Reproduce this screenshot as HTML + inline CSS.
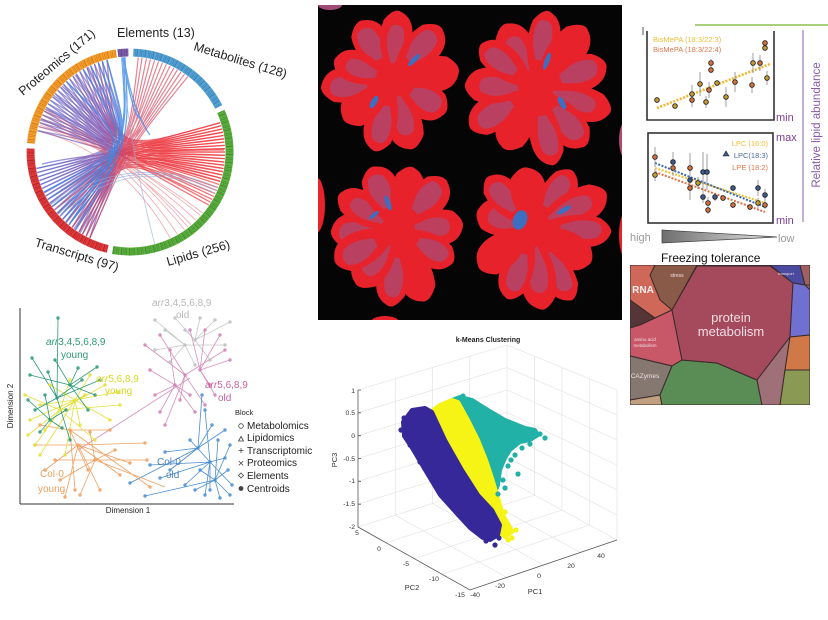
<!DOCTYPE html>
<html><head><meta charset="utf-8">
<style>
html,body{margin:0;padding:0;background:#fff;}
svg{display:block;}
text{font-family:"Liberation Sans",sans-serif;}
</style></head>
<body>
<svg width="828" height="620" viewBox="0 0 828 620" xmlns="http://www.w3.org/2000/svg">
<defs>
  <clipPath id="blk"><rect x="318" y="5" width="304" height="315"/></clipPath>
  <clipPath id="tm"><rect x="630" y="265" width="180" height="140"/></clipPath>
  <linearGradient id="gRB" gradientUnits="userSpaceOnUse" x1="40" y1="0" x2="215" y2="0">
    <stop offset="0" stop-color="#5a6fd6"/>
    <stop offset="0.35" stop-color="#8a50a8"/>
    <stop offset="0.55" stop-color="#e8343c"/>
    <stop offset="1" stop-color="#f03a40"/>
  </linearGradient>
  <linearGradient id="tri" x1="0" y1="0" x2="1" y2="0">
    <stop offset="0" stop-color="#6e6e6e"/>
    <stop offset="1" stop-color="#e6e6e6"/>
  </linearGradient>
  <path id="lf" d="M0,-5 L16,-11 Q34,-21 52,-15 Q64,-4 60,4 Q56,16 44,18 Q30,20 16,11 L0,5Z"/>
  <g id="lfA"><use href="#lf" fill="#e8222a"/><path d="M22,-5 L32,-10 Q44,-14 52,-8 Q56,0 50,7 Q42,11 32,8 L22,4Z" fill="#a0527e" fill-opacity="0.65"/></g>
  <g id="lfB"><use href="#lf" fill="#e8222a"/><path d="M14,-3 L26,-8 Q38,-12 47,-6 Q51,2 45,8 Q36,11 26,7 L14,3Z" fill="#9a5886" fill-opacity="0.55"/></g>
  <g id="lfR"><use href="#lf" fill="#e8222a"/></g>
</defs>

<!-- ============ CHORD ============ -->
<g fill="none">
<path stroke="#6a5fc0" stroke-opacity="0.65" stroke-width="1.3" d="M37.5,130.6C130,148 130,148 89.8,238.1M38.5,126.6C130,148 130,148 82.5,234.3M39.7,122.6C130,148 130,148 86.1,236.3M41,118.7C130,148 130,148 75.5,229.8M42.5,114.9C130,148 130,148 79,232.1M44.2,111.1C130,148 130,148 68.9,224.8M46.1,107.4C130,148 130,148 72.2,227.4M48.1,103.8C130,148 130,148 62.8,219.2M50.3,100.2C130,148 130,148 65.8,222M52.6,96.8C130,148 130,148 57.2,213.1M55.1,93.5C130,148 130,148 60,216.2M57.7,90.3C130,148 130,148 52.2,206.5M60.5,87.2C130,148 130,148 54.6,209.9M63.4,84.2C130,148 130,148 47.7,199.5M66.4,81.4C130,148 130,148 49.9,203M69.5,78.7C130,148 130,148 43.9,192.2M72.8,76.1C130,148 130,148 45.7,195.9M76.2,73.7C130,148 130,148 40.7,184.5M79.7,71.4C130,148 130,148 42.2,188.4M83.3,69.3C130,148 130,148 38.2,176.6M86.9,67.4C130,148 130,148 39.4,180.6M90.6,65.6C130,148 130,148 36.4,168.5M94.4,63.9C130,148 130,148 37.2,172.6M98.3,62.5C130,148 130,148 62.8,219.2M102.3,61.2C130,148 130,148 72.2,227.4M107,59.8C130,148 130,148 82.5,234.3M40,120C128,146 128,146 44,193M45,109C128,146 128,146 50,204M53,95C128,146 128,146 58,214M62,86C128,146 128,146 66,223M75,75C128,146 128,146 74,229M88,67C128,146 128,146 80,233"/>
<path stroke="url(#gRB)" stroke-opacity="0.7" stroke-width="1.3" d="M220.3,122.6C115,153 115,153 107,59.8M221.3,125.8C115,153 115,153 94.4,63.9M222.2,129C115,153 115,153 83.3,69.3M223,132.2C115,153 115,153 102.3,61.2M223.6,135.5C115,153 115,153 72.8,76.1M224.1,138.8C115,153 115,153 90.6,65.6M224.5,142.1C115,153 115,153 63.4,84.2M224.8,145.4C115,153 115,153 79.7,71.4M224.9,148.7C115,153 115,153 55.1,93.5M225,152C115,153 115,153 66.4,81.4M224.9,155.3C115,153 115,153 48.1,103.8M224.8,158.6C115,153 115,153 60.5,87.2M224.5,162C115,153 115,153 42.5,114.9M224.1,165.2C115,153 115,153 52.6,96.8M223.6,168.5C115,153 115,153 39.7,122.6M223,171.7C115,153 115,153 46.1,107.4M222.2,175C115,153 115,153 37.5,130.6M221.3,178.2C115,153 115,153 69.5,78.7M220.3,181.4C115,153 115,153 44.2,111.1M218.1,187.6C115,153 115,153 57.7,90.3M215.4,193.6C115,153 115,153 76.2,73.7M212.3,199.5C115,153 115,153 41,118.7M208.8,205.1C115,153 115,153 50.3,100.2M224.1,138.8C115,153 115,153 86.9,67.4M223,132.2C115,153 115,153 98.3,62.5"/>
<path stroke="url(#gRB)" stroke-opacity="0.7" stroke-width="1.3" d="M220.3,122.6C118,151 118,151 36.4,168.5M221.3,125.8C118,151 118,151 40.7,184.5M222.2,129C118,151 118,151 38.2,176.6M223,132.2C118,151 118,151 45.7,195.9M223.6,135.5C118,151 118,151 42.2,188.4M224.1,138.8C118,151 118,151 52.2,206.5M224.5,142.1C118,151 118,151 47.7,199.5M224.8,145.4C118,151 118,151 57.2,213.1M224.9,148.7C118,151 118,151 39.4,180.6M225,152C118,151 118,151 62.8,219.2M224.9,155.3C118,151 118,151 54.6,209.9M224.8,158.6C118,151 118,151 68.9,224.8M224.5,162C118,151 118,151 37.2,172.6M224.1,165.2C118,151 118,151 75.5,229.8M223.6,168.5C118,151 118,151 60,216.2M223,171.7C118,151 118,151 43.9,192.2M222.2,175C118,151 118,151 82.5,234.3M221.3,178.2C118,151 118,151 49.9,203M220.3,181.4C118,151 118,151 65.8,222M219.3,184.5C118,151 118,151 89.8,238.1M216.8,190.6C118,151 118,151 72.2,227.4M213.9,196.6C118,151 118,151 79,232.1M210.6,202.3C118,151 118,151 86.1,236.3M42,164Q100,150 224,150"/>
<path stroke="#d8405a" stroke-opacity="0.65" stroke-width="1.2" d="M138.3,57.4C128,150 128,150 57.2,213.1M142,57.8C128,150 128,150 62.8,219.2M146.5,58.4C128,150 128,150 68.9,224.8M150.5,59.2C128,150 128,150 52.2,206.5M154.6,60.2C128,150 128,150 75.5,229.8M158.6,61.4C128,150 128,150 47.7,199.5M162.5,62.7C128,150 128,150 82.5,234.3M166.4,64.2C128,150 128,150 60,216.2M170.2,65.9C128,150 128,150 72.2,227.4M173.9,67.8C128,150 128,150 86.1,236.3M177.5,69.7C128,150 128,150 54.6,209.9M181,72C128,150 128,150 65.8,222M184.5,74.2C128,150 128,150 79,232.1M187.8,76.6C128,150 128,150 89.8,238.1"/>
<path stroke="#e85058" stroke-opacity="0.5" stroke-width="0.8" d="M202.8,213Q122,152 38.5,126.6M196,220.3Q122,152 41,118.7M191.1,224.8Q122,152 39.7,122.6M184.5,229.8Q122,152 44.2,111.1M177.5,234.3Q122,152 42.5,114.9M170.2,238.1Q122,152 37.5,130.6M200.6,215.6Q120,150 40,125M188,227Q120,150 46,110"/>
<path stroke="#3a8ae8" stroke-opacity="0.8" stroke-width="1.2" d="M121.7,57.4C128,140 128,140 60,216.2M123.3,57.2C128,140 128,140 68.9,224.8M125,57.1C130,142 130,142 75.5,229.8M124,57.2C126,142 126,142 65.8,222M98.3,62.5C132,146 132,146 57.2,213.1M90.6,65.6C132,146 132,146 62.8,219.2M102.3,61.2C132,146 132,146 52.2,206.5M83.3,69.3C132,146 132,146 47.7,199.5M66.4,81.4C132,146 132,146 43.9,192.2M107,59.8C132,146 132,146 68.9,224.8M122.5,57.3Q134,120 140,118M124,57.2Q132,110 150,135"/>
<path stroke="#8ab0e0" stroke-opacity="0.7" stroke-width="0.8" d="M154.6,243.8Q130,150 121.7,57.4M218.1,187.6Q130,150 50,205M216.8,190.6Q130,150 55,210M215.4,193.6Q130,150 60,216"/>
</g>
<!-- ring -->
<g fill="none" stroke-width="8">
  <path d="M117.9,53.2A99.5,99.5 0 0 1 128.3,52.5" stroke="#7b5ca8"/>
  <path d="M133.5,52.6A99.5,99.5 0 0 1 218.7,106.8" stroke="#56a4d6"/>
  <path d="M220.9,111.5A99.5,99.5 0 0 1 112.7,250" stroke="#5cb040"/>
  <path d="M107.6,248.9A99.5,99.5 0 0 1 30.6,148.5" stroke="#e23b3d"/>
  <path d="M30.9,143.3A99.5,99.5 0 0 1 116.2,53.5" stroke="#f5a030"/>
</g>
<g fill="none" stroke-width="7" stroke-opacity="0.55" stroke-dasharray="0.7 1.3 0.4 0.9 1 2.2 0.5 1.1">
  <path d="M117.9,53.2A99.5,99.5 0 0 1 128.3,52.5" stroke="#4e3580"/>
  <path d="M133.5,52.6A99.5,99.5 0 0 1 218.7,106.8" stroke="#1f5f95"/>
  <path d="M220.9,111.5A99.5,99.5 0 0 1 112.7,250" stroke="#2d6e1e"/>
  <path d="M107.6,248.9A99.5,99.5 0 0 1 30.6,148.5" stroke="#8e1010"/>
  <path d="M30.9,143.3A99.5,99.5 0 0 1 116.2,53.5" stroke="#b85e00"/>
</g>
<g fill="#222" font-size="12.5">
  <text x="117" y="37">Elements (13)</text>
  <text transform="translate(193,50) rotate(17)">Metabolites (128)</text>
  <text transform="translate(23,96) rotate(-40)">Proteomics (171)</text>
  <text transform="translate(34,246) rotate(17)">Transcripts (97)</text>
  <text transform="translate(168,266) rotate(-16)">Lipids (256)</text>
</g>

<!-- ============ PLANTS ============ -->
<rect x="318" y="5" width="304" height="315" fill="#050505"/>
<g clip-path="url(#blk)">
  <ellipse cx="316" cy="205" rx="9" ry="28" fill="#e8222a"/>
  <ellipse cx="625" cy="140" rx="6" ry="18" fill="#b04870"/>
  <ellipse cx="625" cy="235" rx="6" ry="22" fill="#e8222a"/>
  <ellipse cx="385" cy="322" rx="14" ry="6" fill="#e8222a"/>
  <ellipse cx="330" cy="5" rx="12" ry="5" fill="#a04a78"/>
  <g transform="translate(392,80)">
    <use href="#lfA" transform="rotate(-118.9) scale(1.1,1)"/>
    <use href="#lfB" transform="rotate(-85) scale(1.14,0.9)"/>
    <use href="#lfA" transform="rotate(-47.3) scale(1.18,1)"/>
    <use href="#lfR" transform="rotate(-8.6) scale(1.11,1)"/>
    <use href="#lfA" transform="rotate(31.1) scale(1.03,1)"/>
    <use href="#lfB" transform="rotate(73.6) scale(1.18,1)"/>
    <use href="#lfA" transform="rotate(103.7) scale(1.2,0.9)"/>
    <use href="#lfR" transform="rotate(139.6) scale(1.03,1)"/>
    <use href="#lfA" transform="rotate(173.5) scale(1.17,1)"/>
    <use href="#lfB" transform="rotate(-160.7) scale(1,0.9)"/>
    <circle cx="0" cy="0" r="17" fill="#e8222a"/>
    <ellipse cx="-18" cy="22" rx="3" ry="7" fill="#3c6fc0" transform="rotate(30 -18 22)"/>
    <ellipse cx="22" cy="-20" rx="2.5" ry="8" fill="#3c6fc0" transform="rotate(45 22 -20)"/>
  </g>
  <g transform="translate(535,88)">
    <use href="#lfB" transform="rotate(-115.5) scale(1.16,1)"/>
    <use href="#lfA" transform="rotate(-80.3) scale(1.28,0.9)"/>
    <use href="#lfR" transform="rotate(-50.2) scale(1.3,1)"/>
    <use href="#lfA" transform="rotate(-18.2) scale(1.23,1)"/>
    <use href="#lfB" transform="rotate(17.3) scale(1.3,0.95)"/>
    <use href="#lfA" transform="rotate(48.7) scale(1.26,1)"/>
    <use href="#lfA" transform="rotate(76.8) scale(1.3,0.9)"/>
    <use href="#lfR" transform="rotate(116.6) scale(1.12,1)"/>
    <use href="#lfA" transform="rotate(148.4) scale(1.25,1)"/>
    <use href="#lfB" transform="rotate(-177.5) scale(1.15,1)"/>
    <use href="#lfA" transform="rotate(-141) scale(1.14,0.9)"/>
    <circle cx="0" cy="0" r="17" fill="#e8222a"/>
    <ellipse cx="12" cy="-27" rx="2.5" ry="9" fill="#3c6fc0" transform="rotate(20 12 -27)"/>
    <ellipse cx="27" cy="15" rx="3" ry="7" fill="#3c6fc0" transform="rotate(-30 27 15)"/>
  </g>
  <g transform="translate(398,230)">
    <use href="#lfA" transform="rotate(178.3) scale(1.1,1)"/>
    <use href="#lfB" transform="rotate(-148.9) scale(1.13,0.9)"/>
    <use href="#lfA" transform="rotate(-112.7) scale(1.12,1)"/>
    <use href="#lfR" transform="rotate(-77.3) scale(1.06,0.9)"/>
    <use href="#lfA" transform="rotate(-46.8) scale(1.14,1)"/>
    <use href="#lfB" transform="rotate(-4.5) scale(1.07,1)"/>
    <use href="#lfA" transform="rotate(30.6) scale(1.05,0.9)"/>
    <use href="#lfR" transform="rotate(68.9) scale(1.25,1)"/>
    <use href="#lfA" transform="rotate(96.1) scale(1.26,0.9)"/>
    <use href="#lfB" transform="rotate(126) scale(1.13,1)"/>
    <use href="#lfA" transform="rotate(152.7) scale(1.16,1)"/>
    <circle cx="0" cy="0" r="17" fill="#e8222a"/>
    <ellipse cx="-10" cy="-27" rx="2.5" ry="8" fill="#3c6fc0" transform="rotate(-20 -10 -27)"/>
    <ellipse cx="-24" cy="-15" rx="2" ry="6" fill="#3c6fc0" transform="rotate(50 -24 -15)"/>
  </g>
  <g transform="translate(532,228)">
    <use href="#lfB" transform="rotate(-163.5) scale(0.94,1)"/>
    <use href="#lfA" transform="rotate(-131.3) scale(1.11,0.9)"/>
    <use href="#lfR" transform="rotate(-96.7) scale(1,1)"/>
    <use href="#lfA" transform="rotate(-54.5) scale(1.15,0.9)"/>
    <use href="#lfB" transform="rotate(-25.4) scale(1.35,1)"/>
    <use href="#lfA" transform="rotate(2.9) scale(1.3,0.9)"/>
    <use href="#lfR" transform="rotate(30.4) scale(1.12,1)"/>
    <use href="#lfA" transform="rotate(60.8) scale(1.35,0.9)"/>
    <use href="#lfB" transform="rotate(82.5) scale(1.35,1)"/>
    <use href="#lfA" transform="rotate(108.9) scale(1.23,0.9)"/>
    <use href="#lfR" transform="rotate(142.4) scale(1.09,1)"/>
    <circle cx="0" cy="0" r="17" fill="#e8222a"/>
    <ellipse cx="-12" cy="-8" rx="7" ry="10" fill="#3c6fc0" transform="rotate(20 -12 -8)"/>
    <ellipse cx="32" cy="-18" rx="2.5" ry="8" fill="#3c6fc0" transform="rotate(60 32 -18)"/>
  </g>
</g>

<!-- ============ RIGHT LIPID PANELS ============ -->
<line x1="695" y1="25" x2="828" y2="25" stroke="#8cc152" stroke-width="1.5"/>
<line x1="643" y1="27" x2="643" y2="35" stroke="#555" stroke-width="1"/>
<polyline points="647,31 647,120 774,120 774,31" fill="none" stroke="#333" stroke-width="1.6"/>
<rect x="648" y="133" width="125" height="90" fill="none" stroke="#333" stroke-width="1.6"/>
<text x="653" y="42" font-size="7.5" fill="#ebc03a">BisMePA (18:3/22:3)</text>
<text x="653" y="52" font-size="7.5" fill="#e0784e">BisMePA (18:3/22:4)</text>
<line x1="657" y1="108" x2="770" y2="64" stroke="#f2b62e" stroke-width="2.6" stroke-dasharray="2,1.5"/>
<path fill="none" stroke="#888" stroke-width="0.8" d="M657,97V103M675,104V108M692,85V103M692,93V107M700,72V96M706,96V108M709,82V98M711,59V67M711,67V73M717,81V85M726,87V107M735,72V92M752,77V93M753,53V73M760,55V71M765,40V46M765,46V50M767,71V85"/>
<g stroke="#222" stroke-width="0.9">
  <circle cx="657" cy="100" r="2.3" fill="#c89a30"/><circle cx="675" cy="106" r="2.3" fill="#c89a30"/>
  <circle cx="692" cy="94" r="2.3" fill="#c89a30"/><circle cx="692" cy="100" r="2.3" fill="#d8703a"/>
  <circle cx="700" cy="84" r="2.3" fill="#c89a30"/><circle cx="706" cy="102" r="2.3" fill="#c89a30"/>
  <circle cx="709" cy="90" r="2.3" fill="#d8703a"/><circle cx="711" cy="63" r="2.3" fill="#d8703a"/>
  <circle cx="711" cy="70" r="2.3" fill="#d8703a"/><circle cx="717" cy="83" r="2.3" fill="#c89a30"/>
  <circle cx="726" cy="97" r="2.3" fill="#c89a30"/><circle cx="735" cy="82" r="2.3" fill="#d8703a"/>
  <circle cx="752" cy="85" r="2.3" fill="#d8703a"/><circle cx="753" cy="63" r="2.3" fill="#c89a30"/>
  <circle cx="760" cy="63" r="2.3" fill="#d8703a"/><circle cx="765" cy="43" r="2.3" fill="#d8703a"/>
  <circle cx="765" cy="48" r="2.3" fill="#c89a30"/><circle cx="767" cy="78" r="2.3" fill="#c89a30"/>
</g>
<text x="768" y="146" font-size="7.5" fill="#ebc03a" text-anchor="end">LPC (16:0)</text>
<text x="768" y="158" font-size="7.5" fill="#4a6a9a" text-anchor="end">LPC(18:3)</text>
<text x="768" y="170" font-size="7.5" fill="#e0784e" text-anchor="end">LPE (18:2)</text>
<polygon points="723,156 726,151 729,156" fill="#3a5a8a" stroke="#222" stroke-width="0.6"/>
<line x1="655" y1="168" x2="765" y2="203" stroke="#f2c02e" stroke-width="2" stroke-dasharray="2,1.5"/>
<line x1="655" y1="163" x2="765" y2="207" stroke="#3a6ab8" stroke-width="2" stroke-dasharray="2,1.5"/>
<line x1="655" y1="172" x2="765" y2="212" stroke="#e07040" stroke-width="2" stroke-dasharray="2,1.5"/>
<path fill="none" stroke="#888" stroke-width="0.8" d="M655,147V167M655,169V181M673,152V172M673,160V176M690,153V183M690,168V192M690,176V200M698,177V189M703,152V192M707,154V190M703,191V203M708,197V209M708,206V214M715,193V201M723,195V201M733,185V191M733,202V208M750,204V210M758,180V196M758,198V208M765,189V201M765,201V209"/>
<g stroke="#222" stroke-width="0.9">
  <circle cx="655" cy="157" r="2.3" fill="#d8703a"/><circle cx="655" cy="175" r="2.3" fill="#c8a030"/>
  <circle cx="673" cy="162" r="2.3" fill="#3a5a90"/><circle cx="673" cy="168" r="2.3" fill="#d8703a"/>
  <circle cx="690" cy="168" r="2.3" fill="#d8703a"/><circle cx="690" cy="180" r="2.3" fill="#3a5a90"/>
  <circle cx="690" cy="188" r="2.3" fill="#d8703a"/><circle cx="698" cy="183" r="2.3" fill="#c8a030"/>
  <circle cx="703" cy="172" r="2.3" fill="#3a5a90"/><circle cx="707" cy="172" r="2.3" fill="#3a5a90"/>
  <circle cx="703" cy="197" r="2.3" fill="#3a5a90"/><circle cx="708" cy="203" r="2.3" fill="#d8703a"/>
  <circle cx="708" cy="210" r="2.3" fill="#d8703a"/><circle cx="715" cy="197" r="2.3" fill="#3a5a90"/>
  <circle cx="723" cy="198" r="2.3" fill="#d8703a"/><circle cx="733" cy="188" r="2.3" fill="#3a5a90"/>
  <circle cx="733" cy="205" r="2.3" fill="#d8703a"/><circle cx="750" cy="207" r="2.3" fill="#d8703a"/>
  <circle cx="758" cy="188" r="2.3" fill="#3a5a90"/><circle cx="758" cy="203" r="2.3" fill="#c8a030"/>
  <circle cx="765" cy="195" r="2.3" fill="#3a5a90"/><circle cx="765" cy="205" r="2.3" fill="#d8703a"/>
</g>
<g font-size="11" fill="#7a3a98">
  <text x="776" y="121">min</text>
  <text x="776" y="141">max</text>
  <text x="776" y="224">min</text>
</g>
<line x1="803" y1="30" x2="803" y2="222" stroke="#9c7cbc" stroke-width="1.2"/>
<text transform="translate(820,125) rotate(-90)" font-size="11.5" fill="#8a5aaa" text-anchor="middle">Relative lipid abundance</text>
<text x="630" y="241" font-size="11" fill="#9a9a9a">high</text>
<polygon points="662,230 662,243 777,237" fill="url(#tri)" stroke="#444" stroke-width="0.8"/>
<text x="778" y="242" font-size="11" fill="#9a9a9a">low</text>
<text x="661" y="262" font-size="12" fill="#111">Freezing tolerance</text>

<!-- ============ TREEMAP ============ -->
<g clip-path="url(#tm)" stroke="#3a2a2a" stroke-width="1">
  <rect x="630" y="265" width="180" height="140" fill="#8a6a6a"/>
  <polygon points="655,265 697,265 672,310 660,300 650,275" fill="#8a5a48"/>
  <polygon points="630,265 655,265 650,275 660,300 672,310 655,318 630,300" fill="#d0685a"/>
  <polygon points="630,300 655,318 640,325 630,328" fill="#553535"/>
  <polygon points="630,328 640,325 655,318 672,310 682,360 672,366 630,356" fill="#c85868"/>
  <polygon points="630,356 672,366 660,395 630,400" fill="#857870"/>
  <polygon points="630,400 660,395 662,405 630,405" fill="#c0a080"/>
  <polygon points="672,366 682,360 717,363 757,380 762,405 662,405 660,395" fill="#5a8c55"/>
  <polygon points="672,310 697,266 770,266 793,283 790,337 757,380 717,363 682,360" fill="#a44a5c"/>
  <polygon points="757,380 790,337 785,370 780,405 762,405" fill="#a07078"/>
  <polygon points="770,265 800,265 805,285 793,283" fill="#4a4aa0"/>
  <polygon points="800,265 810,265 810,285 805,285" fill="#a06060"/>
  <polygon points="793,283 805,285 810,290 810,335 790,337" fill="#7070d0"/>
  <polygon points="790,337 810,335 810,370 785,370" fill="#d07848"/>
  <polygon points="785,370 810,370 810,405 780,405" fill="#8a9a55"/>
</g>
<g fill="#f2dde0" text-anchor="middle">
  <text x="731" y="322" font-size="13">protein</text>
  <text x="731" y="336" font-size="13">metabolism</text>
  <text x="643" y="293" font-size="10" font-weight="bold" fill="#f6eeee">RNA</text>
  <text x="677" y="277" font-size="5">stress</text>
  <text x="645" y="341" font-size="4.5">amino acid</text>
  <text x="645" y="347" font-size="4.5">metabolism</text>
  <text x="645" y="378" font-size="6.5">CAZymes</text>
  <text x="786" y="275" font-size="4">transport</text>
</g>

<!-- ============ MDS ============ -->
<g fill="none" stroke-width="0.8">
<path stroke="#c8c8c8" d="M155,320L185,345M165,330L185,345M175,318L195,340M200,318L195,340M215,320L195,340M230,322L195,340M225,345L185,345M210,360L195,340M195,365L185,345M170,362L185,345M155,350L185,345M185,330L195,340"/>
<path stroke="#d890bc" d="M145,345L185,375M150,370L175,385M155,395L175,385M160,412L175,385M165,425L185,375M190,330L200,370M205,330L200,370M220,335L200,370M225,350L185,375M230,360L200,370M215,395L200,370M205,405L185,375M195,412L175,385M180,400L185,375M170,350L175,385M160,335L185,375M210,385L200,370M190,395L175,385M190,378L78,450"/>
<path stroke="#4a8ed0" d="M202,395L198,448M205,410L210,462M212,425L198,448M218,440L215,480M225,458L210,462M228,470L215,480M232,485L210,462M230,495L215,480M220,498L215,480M205,495L210,462M195,490L215,480M185,485L210,462M170,470L198,448M160,478L210,462M145,496L215,480M130,483L198,448M150,465L210,462M165,452L198,448M190,440L210,462M230,445L215,480M225,430L198,448M210,490L210,462M200,470L215,480"/>
<path stroke="#f0a060" d="M40,425L70,430M45,470L78,445M60,480L95,460M65,497L78,445M80,495L95,460M88,470L70,430M100,490L78,445M145,443L78,445M147,460L95,460M150,487L70,430M120,475L78,445M115,450L95,460M110,430L70,430M35,445L78,445M55,460L95,460M130,463L78,445M75,490L70,430M90,432L95,460M165,487L95,460"/>
<path stroke="#e4e03a" d="M25,395L60,410M30,420L75,400M35,445L60,410M40,455L75,400M120,405L60,410M118,392L75,400M105,385L60,410M90,375L75,400M70,380L60,410M50,385L75,400M45,430L60,410M80,425L75,400M95,440L60,410M65,455L75,400M28,435L60,410M110,420L75,400M85,395L60,410M40,405L75,400"/>
<path stroke="#2e9a78" d="M58,318L57,398M32,358L57,398M30,375L70,385M78,368L70,385M97,367L70,385M82,380L57,398M45,395L50,420M35,410L57,398M88,410L70,385M62,428L50,420M40,432L50,420M70,440L57,398M28,400L50,420M95,395L70,385M48,372L57,398M100,380L57,398M66,410L50,420M55,360L70,385"/>
</g>
<g fill="none" stroke-linecap="round" stroke-width="3.4" stroke-opacity="0.85">
<path stroke="#c0c0c0" d="M155,320h0M165,330h0M175,318h0M200,318h0M215,320h0M230,322h0M225,345h0M210,360h0M195,365h0M170,362h0M155,350h0M185,330h0M185,345h0M195,340h0"/>
<path stroke="#d080b4" d="M145,345h0M150,370h0M155,395h0M160,412h0M165,425h0M190,330h0M205,330h0M220,335h0M225,350h0M230,360h0M215,395h0M205,405h0M195,412h0M180,400h0M170,350h0M160,335h0M210,385h0M190,395h0M185,375h0M175,385h0M200,370h0"/>
<path stroke="#4a8ed0" d="M202,395h0M205,410h0M212,425h0M218,440h0M225,458h0M228,470h0M232,485h0M230,495h0M220,498h0M205,495h0M195,490h0M185,485h0M170,470h0M160,478h0M145,496h0M130,483h0M150,465h0M165,452h0M190,440h0M230,445h0M225,430h0M210,490h0M200,470h0M210,462h0M215,480h0M198,448h0"/>
<path stroke="#f0a060" d="M40,425h0M45,470h0M60,480h0M65,497h0M80,495h0M88,470h0M100,490h0M145,443h0M147,460h0M150,487h0M120,475h0M115,450h0M110,430h0M35,445h0M55,460h0M130,463h0M75,490h0M90,432h0M78,445h0M95,460h0M70,430h0"/>
<path stroke="#e4e03a" d="M25,395h0M30,420h0M35,445h0M40,455h0M120,405h0M118,392h0M105,385h0M90,375h0M70,380h0M50,385h0M45,430h0M80,425h0M95,440h0M65,455h0M28,435h0M110,420h0M85,395h0M40,405h0M60,410h0M75,400h0"/>
<path stroke="#2e9a78" d="M58,318h0M32,358h0M30,375h0M78,368h0M97,367h0M82,380h0M45,395h0M35,410h0M88,410h0M62,428h0M40,432h0M70,440h0M28,400h0M95,395h0M48,372h0M100,380h0M66,410h0M55,360h0M57,398h0M70,385h0M50,420h0"/>
</g>
<line x1="20" y1="308" x2="20" y2="504" stroke="#333" stroke-width="1"/>
<line x1="20" y1="504" x2="234" y2="504" stroke="#333" stroke-width="1"/>
<text transform="translate(13,406) rotate(-90)" font-size="8" fill="#222" text-anchor="middle">Dimension 2</text>
<text x="128" y="513" font-size="8" fill="#222" text-anchor="middle">Dimension 1</text>
<g font-size="10">
  <text x="152" y="306" fill="#b8b8b8"><tspan font-style="italic">arr</tspan>3,4,5,6,8,9</text>
  <text x="176" y="318" fill="#b8b8b8">old</text>
  <text x="46" y="345" fill="#2e9a78"><tspan font-style="italic">arr</tspan>3,4,5,6,8,9</text>
  <text x="61" y="358" fill="#2e9a78">young</text>
  <text x="96" y="382" fill="#d8d820"><tspan font-style="italic">arr</tspan>5,6,8,9</text>
  <text x="105" y="394" fill="#d8d820">young</text>
  <text x="205" y="388" fill="#c8609c"><tspan font-style="italic">arr</tspan>5,6,8,9</text>
  <text x="218" y="401" fill="#c8609c">old</text>
  <text x="157" y="465" fill="#4a80c0">Col-0</text>
  <text x="166" y="478" fill="#4a80c0">old</text>
  <text x="40" y="477" fill="#f0a060">Col-0</text>
  <text x="38" y="492" fill="#f0a060">young</text>
</g>
<g font-size="10" fill="#222">
  <text x="235" y="415" font-size="7.5">Block</text>
  <text x="247" y="429">Metabolomics</text>
  <text x="247" y="441">Lipidomics</text>
  <text x="247" y="454">Transcriptomic</text>
  <text x="247" y="466">Proteomics</text>
  <text x="247" y="479">Elements</text>
  <text x="247" y="492">Centroids</text>
</g>
<g stroke="#444" stroke-width="0.8" fill="none">
  <circle cx="241" cy="426" r="2.3"/>
  <polygon points="238.5,441 241,436.5 243.5,441"/>
  <path d="M238.5,450.5 h5 M241,448 v5"/>
  <path d="M238.8,461 l4.4,4.4 M243.2,461 l-4.4,4.4"/>
  <polygon points="241,473 243.5,475.5 241,478 238.5,475.5"/>
  <circle cx="241" cy="488.5" r="2" fill="#444"/>
</g>

<!-- ============ K-MEANS ============ -->
<path fill="none" stroke="#e0e0e0" stroke-width="0.6" d="M358,390L507,345M358,412.8L507,367.5M358,435.7L507,390M358,458.5L507,412.5M358,481.3L507,435M358,504.2L507,457.5M358,527L507,480M507,345L617,390M507,367.5L617,415M507,390L617,440M507,412.5L617,465M507,435L617,490M507,457.5L617,515M507,480L617,540M395.25,378.75V515.25M432.5,367.5V503.5M469.75,356.25V491.75M507,345V480M534.5,356.25V495M562,367.5V510M589.5,378.75V525M617,390V540M386,542.75L534.5,495M414,558.5L562,510M442,574.25L589.5,525M395.25,515.25L506.75,577.5M432.5,503.5L543.5,565M469.75,491.75L580.25,552.5"/>
<path fill="none" stroke="#555" stroke-width="0.8" d="M358,390V527L470,590L617,540"/>
<path fill="none" stroke="#555" stroke-width="0.8" d="M358,412.8h3M358,435.7h3M358,458.5h3M358,481.3h3M358,504.2h3M358,390h3"/>
<g stroke-linejoin="round" stroke-width="4">
<polygon fill="#22b1a6" stroke="#22b1a6" points="452,400 460,397 472,400 488,410 505,420 525,428 535,430 538,435 530,440 520,442 510,450 505,458 500,470 498,485 496,490 493,478 486,460 478,440 468,420 458,402"/>
<polygon fill="#f6f415" stroke="#f6f415" points="430,412 440,405 452,400 458,402 468,420 478,440 486,460 492,478 497,495 503,515 510,527 512,532 505,537 500,533 497,522 490,508 478,493 462,470 445,440"/>
<polygon fill="#37289a" stroke="#37289a" points="403,422 412,410 425,408 432,412 445,440 462,470 478,495 492,510 500,525 498,535 490,540 483,538 470,528 458,515 440,495 425,470 412,448 404,436"/>
</g>
<g fill="none" stroke-linecap="round" stroke-width="5.2">
<path stroke="#22b1a6" d="M505,488h0M508,466h0M515,455h0M522,448h0M540,434h0M518,474h0M498,494h0M530,444h0M463,396h0M545,438h0M511,460h0M503,480h0"/>
<path stroke="#f6f415" d="M512,538h0M516,530h0M507,526h0M505,512h0M498,500h0M493,484h0M508,540h0"/>
<path stroke="#37289a" d="M495,545h0M486,541h0M401,430h0M404,418h0M410,445h0M420,462h0M432,480h0M446,498h0M462,515h0M478,530h0M499,538h0"/>
</g>
<text x="488" y="342" font-size="7" font-weight="bold" fill="#222" text-anchor="middle">k-Means Clustering</text>
<g font-size="6.8" fill="#333" text-anchor="end">
  <text x="355" y="393">1</text>
  <text x="355" y="415">0.5</text>
  <text x="355" y="438">0</text>
  <text x="355" y="461">-0.5</text>
  <text x="355" y="483">-1</text>
  <text x="355" y="506">-1.5</text>
  <text x="355" y="529">-2</text>
</g>
<text transform="translate(337,460) rotate(-90)" font-size="7.5" fill="#333" text-anchor="middle">PC3</text>
<g font-size="6.8" fill="#333" text-anchor="middle">
  <text x="357" y="535">5</text>
  <text x="379" y="551">0</text>
  <text x="406" y="566">-5</text>
  <text x="434" y="581">-10</text>
  <text x="460" y="597">-15</text>
  <text x="412" y="590" font-size="7.5">PC2</text>
  <text x="475" y="597">-40</text>
  <text x="500" y="588">-20</text>
  <text x="539" y="578">0</text>
  <text x="571" y="568">20</text>
  <text x="601" y="558">40</text>
  <text x="535" y="594" font-size="7.5">PC1</text>
</g>
</svg>
</body></html>
